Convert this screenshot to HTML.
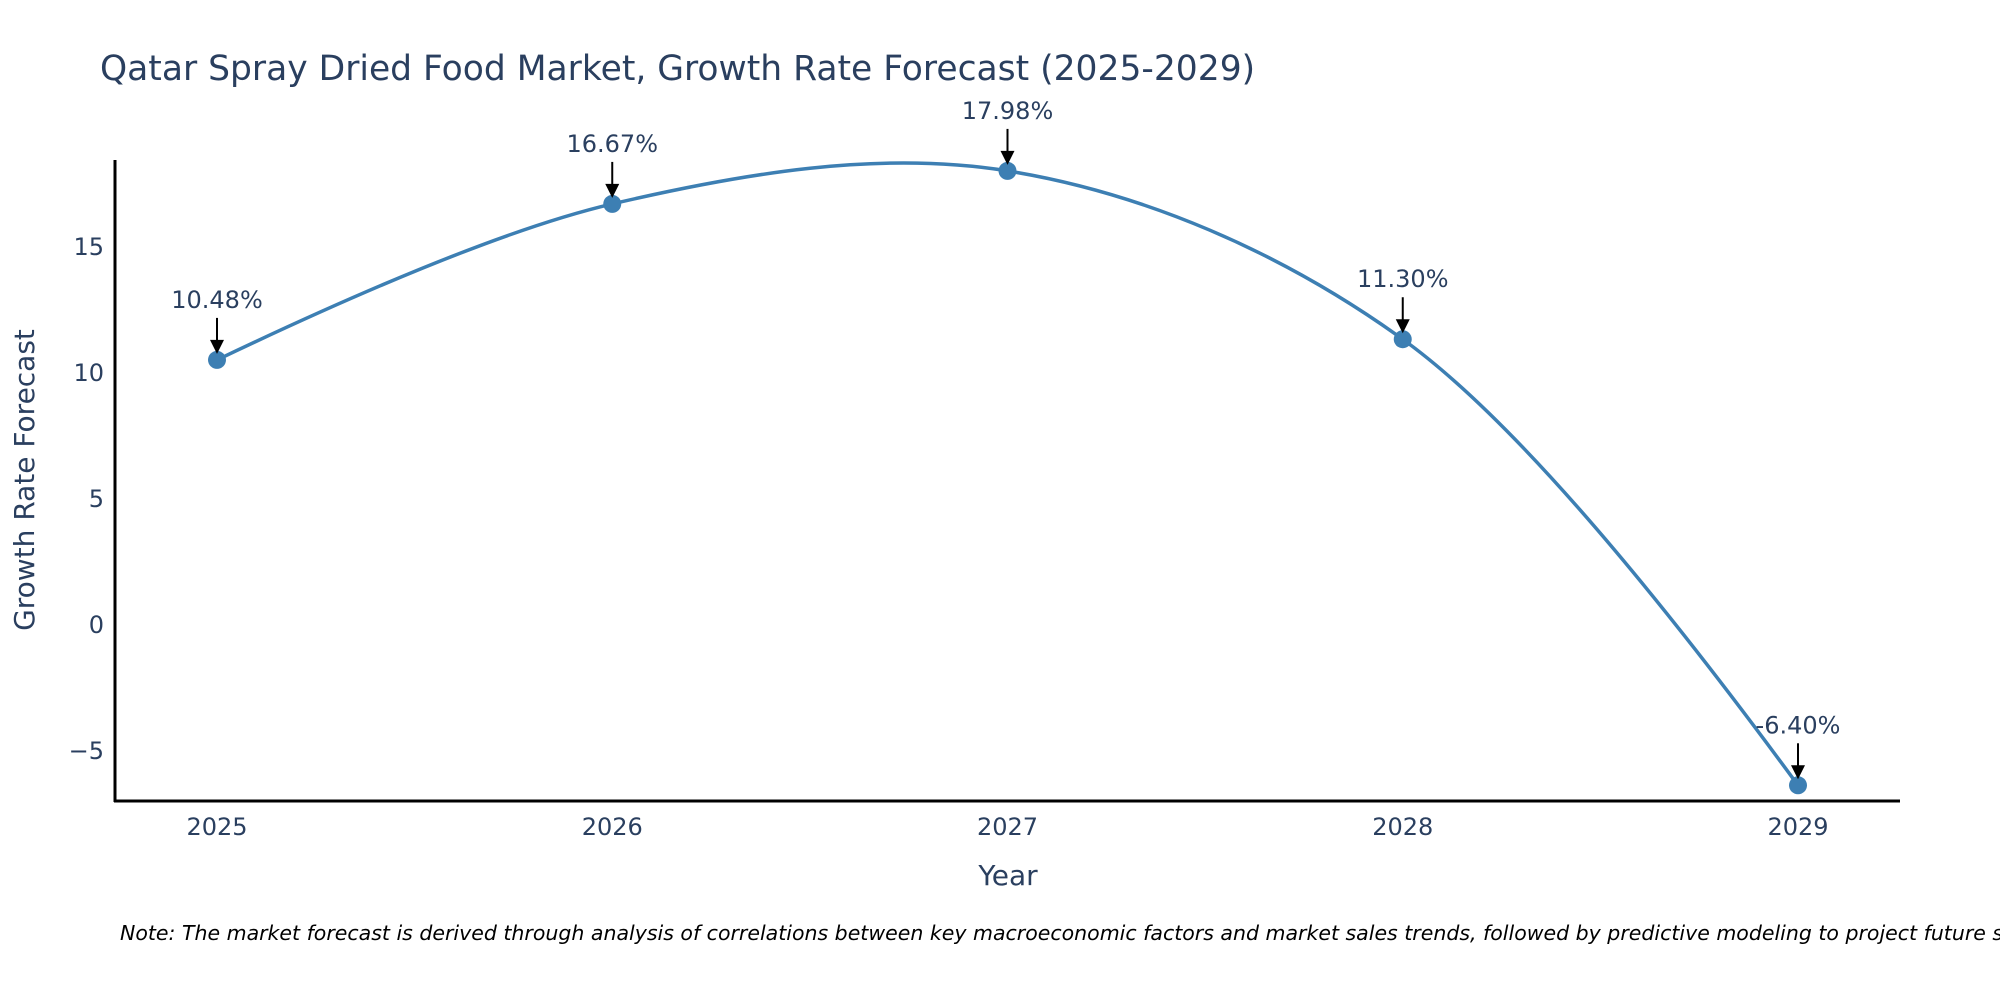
<!DOCTYPE html>
<html><head><meta charset="utf-8"><style>
body{margin:0;background:#fff;}
svg{display:block;font-family:"DejaVu Sans","Liberation Sans",sans-serif;}
</style></head><body>
<svg id="chart" width="2000" height="1000" viewBox="0 0 2000 1000">
<text x="100" y="80" font-size="34.5" fill="#2a3f5f">Qatar Spray Dried Food Market, Growth Rate Forecast (2025-2029)</text>
<g id="yticks"></g>
<g id="xticks"></g>
<line x1="115" y1="160" x2="115" y2="802" stroke="#000" stroke-width="3"/>
<line x1="114" y1="801" x2="1900" y2="801" stroke="#000" stroke-width="3"/>
<path id="curve" fill="none" stroke="#3d7fb3" stroke-width="3.5"/>
<g id="pts"></g>
<g id="ann"></g>
<text x="0" y="0" transform="translate(34,480) rotate(-90)" text-anchor="middle" font-size="28" fill="#2a3f5f">Growth Rate Forecast</text>
<text x="1008" y="885" text-anchor="middle" font-size="28" fill="#2a3f5f">Year</text>
<text x="120" y="940" font-size="20.5" font-style="italic" fill="#000">Note: The market forecast is derived through analysis of correlations between key macroeconomic factors and market sales trends, followed by predictive modeling to project future sales.</text>
</svg>
<script>
const years = [2025, 2026, 2027, 2028, 2029];
const growth = [10.48, 16.67, 17.98, 11.30, -6.40];
const labels = ["10.48%", "16.67%", "17.98%", "11.30%", "-6.40%"];
const yTicks = [-5, 0, 5, 10, 15];
const yTickLabels = ["\u22125", "0", "5", "10", "15"];

const NS = "http://www.w3.org/2000/svg";
function xs(v){ return 217 + (v - 2025) * 395.25; }
function ys(v){ return 624 - v * 25.2; }
function mk(tag, attrs, parent){ const e=document.createElementNS(NS,tag); for(const k in attrs) e.setAttribute(k,attrs[k]); parent.appendChild(e); return e; }

const yt=document.getElementById('yticks');
yTicks.forEach((t,i)=>{
  const e=mk('text',{x:104,y:ys(t)+9,'text-anchor':'end','font-size':24,fill:'#2a3f5f'},yt);
  
  
  e.textContent=yTickLabels[i];
});
const xt=document.getElementById('xticks');
years.forEach(y=>{
  const e=mk('text',{x:xs(y),y:835,'text-anchor':'middle','font-size':24,fill:'#2a3f5f'},xt);
  
  
  e.textContent=String(y);
});

// plotly-style spline
const P=years.map((y,i)=>[xs(y),ys(growth[i])]);
function tangent(a,b,c,s){
  const d1x=a[0]-b[0],d1y=a[1]-b[1],d2x=c[0]-b[0],d2y=c[1]-b[1];
  const d1a=Math.pow(d1x*d1x+d1y*d1y,0.25),d2a=Math.pow(d2x*d2x+d2y*d2y,0.25);
  const nx=(d2a*d2a*d1x-d1a*d1a*d2x)*s,ny=(d2a*d2a*d1y-d1a*d1a*d2y)*s;
  const den1=3*d2a*(d1a+d2a),den2=3*d1a*(d1a+d2a);
  return [[b[0]+nx/den1,b[1]+ny/den1],[b[0]-nx/den2,b[1]-ny/den2]];
}
const T=[];
for(let i=1;i<P.length-1;i++) T.push(tangent(P[i-1],P[i],P[i+1],1));
let d="M"+P[0]+"Q"+T[0][0]+" "+P[1];
for(let i=2;i<P.length-1;i++) d+="C"+T[i-2][1]+" "+T[i-1][0]+" "+P[i];
d+="Q"+T[P.length-3][1]+" "+P[P.length-1];
document.getElementById('curve').setAttribute('d',d);

const pts=document.getElementById('pts'), ann=document.getElementById('ann');
P.forEach((p,i)=>{
  const c=mk('circle',{cx:p[0],cy:p[1],r:9,fill:'#3d7fb3'},pts);
  
  
  const l=mk('line',{x1:p[0],y1:p[1]-42,x2:p[0],y2:p[1]-18,stroke:'#000','stroke-width':2},ann);
  
  
  const h=mk('polygon',{points:(p[0]-7)+","+(p[1]-20)+" "+(p[0]+7)+","+(p[1]-20)+" "+p[0]+","+(p[1]-6),fill:'#000'},ann);
  
  
  const t=mk('text',{x:p[0],y:p[1]-52,'text-anchor':'middle','font-size':24,fill:'#2a3f5f'},ann);
  
  
  t.textContent=labels[i];
});
</script>
</body></html>
